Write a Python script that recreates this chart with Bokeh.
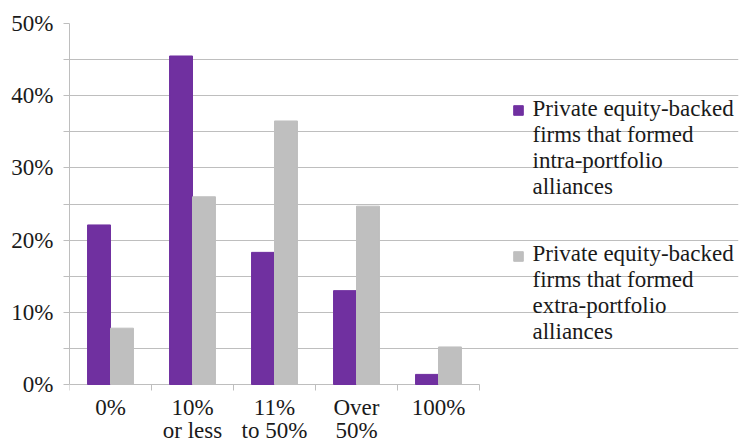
from bokeh.plotting import figure
from bokeh.models import FixedTicker, Legend, LegendItem, ColumnDataSource, Label
from bokeh.transform import dodge
from bokeh.embed import file_html
from bokeh.resources import INLINE

categories = ["0%", "10%\nor less", "11%\nto 50%", "Over\n50%", "100%"]
intra = [0.221, 0.455, 0.183, 0.130, 0.014]
extra = [0.078, 0.260, 0.365, 0.247, 0.052]
y_ticks = [0.0, 0.1, 0.2, 0.3, 0.4, 0.5]
y_minor = [0.05, 0.15, 0.25, 0.35, 0.45]
y_tick_labels = ["0%", "10%", "20%", "30%", "40%", "50%"]
series_names = [
    "Private equity-backed\nfirms that formed\nintra-portfolio\nalliances",
    "Private equity-backed\nfirms that formed\nextra-portfolio\nalliances",
]
colors = ["#7030A0", "#BFBFBF"]

FONT = "Liberation Serif"
FS = "23px"
GRID = "#BEBEBE"
TEXT = "#1a1a1a"

W, H = 739, 442
LEFT, TOP, BOTTOM = 69, 23, 0
CHART_W = 410           # pixel width of the category area
CHART_H = 361           # pixel height of the 0-50% value area
FRAME_W = W - LEFT - 1  # frame extends under the legend area
FRAME_H = H - TOP - BOTTOM

n = len(categories)
centers = [i + 0.5 for i in range(n)]
bounds = list(range(n + 1))
x_end = n * FRAME_W / CHART_W
y_top = y_ticks[-1]
y_start = -y_top * (FRAME_H - CHART_H) / CHART_H

src = ColumnDataSource(dict(x=centers, intra=intra, extra=extra))

p = figure(width=W, height=H, x_range=(0, x_end), y_range=(y_start, y_top),
           output_backend="svg", toolbar_location=None,
           min_border_left=LEFT, min_border_top=TOP, min_border_bottom=BOTTOM,
           min_border_right=1)
p.outline_line_color = None
p.background_fill_color = "white"

# baseline (0%) across the category area only
p.segment(x0=[bounds[0]], y0=[y_ticks[0]], x1=[bounds[-1]], y1=[y_ticks[0]],
          line_color=GRID, line_width=1)

r1 = p.vbar(x=dodge("x", -0.14, range=p.x_range), top="intra", width=0.28,
            source=src, color=colors[0])
r2 = p.vbar(x=dodge("x", 0.14, range=p.x_range), top="extra", width=0.28,
            source=src, color=colors[1])

# x axis (drawn at value 0, labels hang below)
p.xaxis.fixed_location = 0
p.xaxis.bounds = (0, n)
p.xaxis.ticker = FixedTicker(ticks=centers, minor_ticks=bounds)
p.xaxis.major_label_overrides = {c: lab for c, lab in zip(centers, categories)}
p.xaxis.major_tick_out = 0
p.xaxis.major_tick_in = 0
p.xaxis.minor_tick_out = 6
p.xaxis.minor_tick_in = 0
p.xaxis.minor_tick_line_color = GRID
p.xaxis.axis_line_color = None
p.xaxis.major_label_text_font = FONT
p.xaxis.major_label_text_font_size = FS
p.xaxis.major_label_text_color = TEXT
p.xaxis.major_label_text_line_height = 0.95
p.xaxis.major_label_standoff = 4
p.xgrid.grid_line_color = None

# y axis
p.yaxis.bounds = (0, y_top)
p.yaxis.ticker = FixedTicker(ticks=y_ticks, minor_ticks=y_minor)
p.yaxis.major_label_overrides = {t: lab for t, lab in zip(y_ticks, y_tick_labels)}
p.yaxis.major_tick_out = 6
p.yaxis.major_tick_in = 0
p.yaxis.minor_tick_out = 6
p.yaxis.minor_tick_in = 0
p.yaxis.major_tick_line_color = GRID
p.yaxis.minor_tick_line_color = GRID
p.yaxis.axis_line_color = GRID
p.yaxis.major_label_text_font = FONT
p.yaxis.major_label_text_font_size = FS
p.yaxis.major_label_text_color = TEXT
p.yaxis.major_label_standoff = 10
p.ygrid.ticker = FixedTicker(ticks=y_ticks[1:], minor_ticks=y_minor)
p.ygrid.grid_line_color = GRID
p.ygrid.minor_grid_line_color = GRID

# legend: swatches via Legend, text via Label (glyph aligned with first line)
base = FRAME_H - CHART_H  # pixels between frame bottom and the 0% line
swatch_pos = [(443, base + 268), (443, base + 122)]
text_pos = [(463, base + 289), (463, base + 144)]
for r, name, (lx, ly), (tx, ty) in zip([r1, r2], series_names, swatch_pos, text_pos):
    lg = Legend(items=[LegendItem(label=" ", renderers=[r])], location=(lx, ly))
    lg.glyph_width = 12
    lg.glyph_height = 12
    lg.label_height = 12
    lg.label_width = 0
    lg.label_text_font_size = "1px"
    lg.label_standoff = 0
    lg.padding = 0
    lg.margin = 0
    lg.spacing = 0
    lg.border_line_color = None
    lg.background_fill_alpha = 0
    p.add_layout(lg, "center")
    p.add_layout(Label(x=tx, y=ty, x_units="screen", y_units="screen", text=name,
                       text_baseline="top", text_align="left", text_font=FONT,
                       text_font_size=FS, text_color=TEXT, text_line_height=1.045))

open("out.html", "w").write(file_html(p, INLINE))
